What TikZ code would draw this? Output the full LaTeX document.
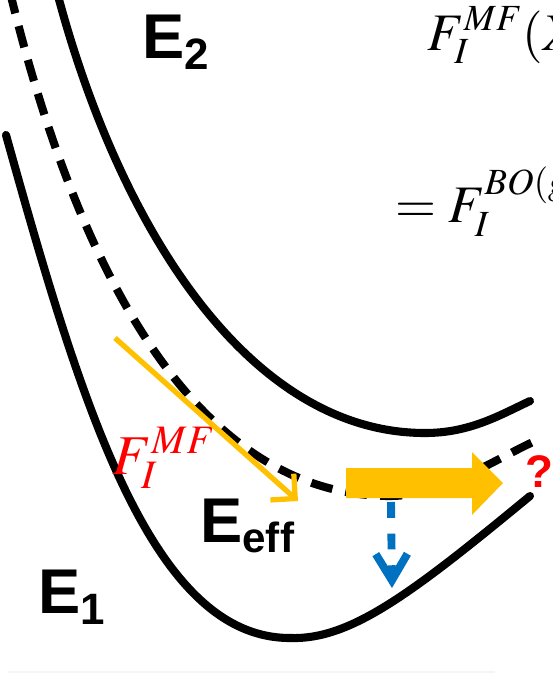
\documentclass[tikz,border=0pt]{standalone}
\usepackage{mathptmx}
\usepackage[no-math]{fontspec}
\setsansfont{Liberation Sans}
\usepackage{xcolor}
\usepackage{tikz}
\usetikzlibrary{arrows.meta, positioning}

\definecolor{gold}{HTML}{FFC000}
\definecolor{dropblue}{HTML}{0070C0}
\DeclareMathSizes{30}{30}{21}{15}
\DeclareMathSizes{32}{32}{23}{16}

\begin{document}
\begin{tikzpicture}[
    x=0.02cm, y=-0.02cm,
    curve/.style={line width=4.6pt, line cap=round, black},
    dashcurve/.style={curve, line cap=butt, dash pattern=on 12.5pt off 7.5pt},
    level/.style={font=\sffamily\bfseries\fontsize{36}{40}\selectfont, anchor=base west, inner sep=0pt},
    formula/.style={font=\fontsize{30}{36}\selectfont, anchor=base west, inner sep=0pt},
    forceline/.style={gold, line width=3pt, -{Straight Barb[length=10pt, width=20pt]}},
    dropline/.style={dropblue, line width=4.5pt, dash pattern=on 9pt off 9pt, -{Straight Barb[length=15pt, width=18pt]}}
]
    \useasboundingbox (0,0) rectangle (552,673);

    % --- Potential curves ---
    \draw[curve] (57,-8) .. controls (120,230) and (250,433) .. (425,433)
                 .. controls (470,433) and (500,415) .. (530,401);
    \draw[curve] (6,135) .. controls (80,400) and (150,638) .. (290,638)
                 .. controls (350,640) and (410,595) .. (530,496);
    \draw[dashcurve] (10,-8) .. controls (80,280) and (200,496) .. (390,496)
                 .. controls (440,496) and (490,462) .. (535,441);

    % --- Level labels ---
    \node[level] (e2) at (142,58) {E\raisebox{-6.8pt}{\fontsize{25}{25}\selectfont 2}};
    \node[level] (e1) at (38,613) {E\raisebox{-6.8pt}{\fontsize{25}{25}\selectfont 1}};
    \node[level] (eeff) at (200,542) {E\raisebox{-6.2pt}{\fontsize{24}{24}\selectfont eff}};

    % --- Formulas ---
    \node[formula] (fmf) at (427,50) {$F_I^{MF}(X$};
    \node[formula] (fbo) at (395,222) {$=F_I^{BO(g}$};
    \node[formula, font=\fontsize{32}{38}\selectfont, text=red] (flab) at (112,474) {$F_I^{MF}$};

    % --- Force and flow arrows ---
    \coordinate (fstart) at (115,338);
    \coordinate (fend) at (298,501);
    \draw[forceline] (fstart) -- (fend);

    \fill[gold] (346,468) -- (472,468) -- (472,452) -- (503,483)
                -- (472,515) -- (472,498) -- (346,498) -- cycle;
    \node[font=\sffamily\bfseries\fontsize{26}{30}\selectfont, text=red, anchor=base west, inner sep=0pt] (ask) at (525,487) {?};

    \coordinate (drop) at (391,502);
    \coordinate (dropend) at (392,588);
    \draw[dropline] (drop) -- (dropend);

    % faint rule at the bottom
    \draw[gray!8, line width=1.2pt] (8,672) -- (495,672);
\end{tikzpicture}
\end{document}
